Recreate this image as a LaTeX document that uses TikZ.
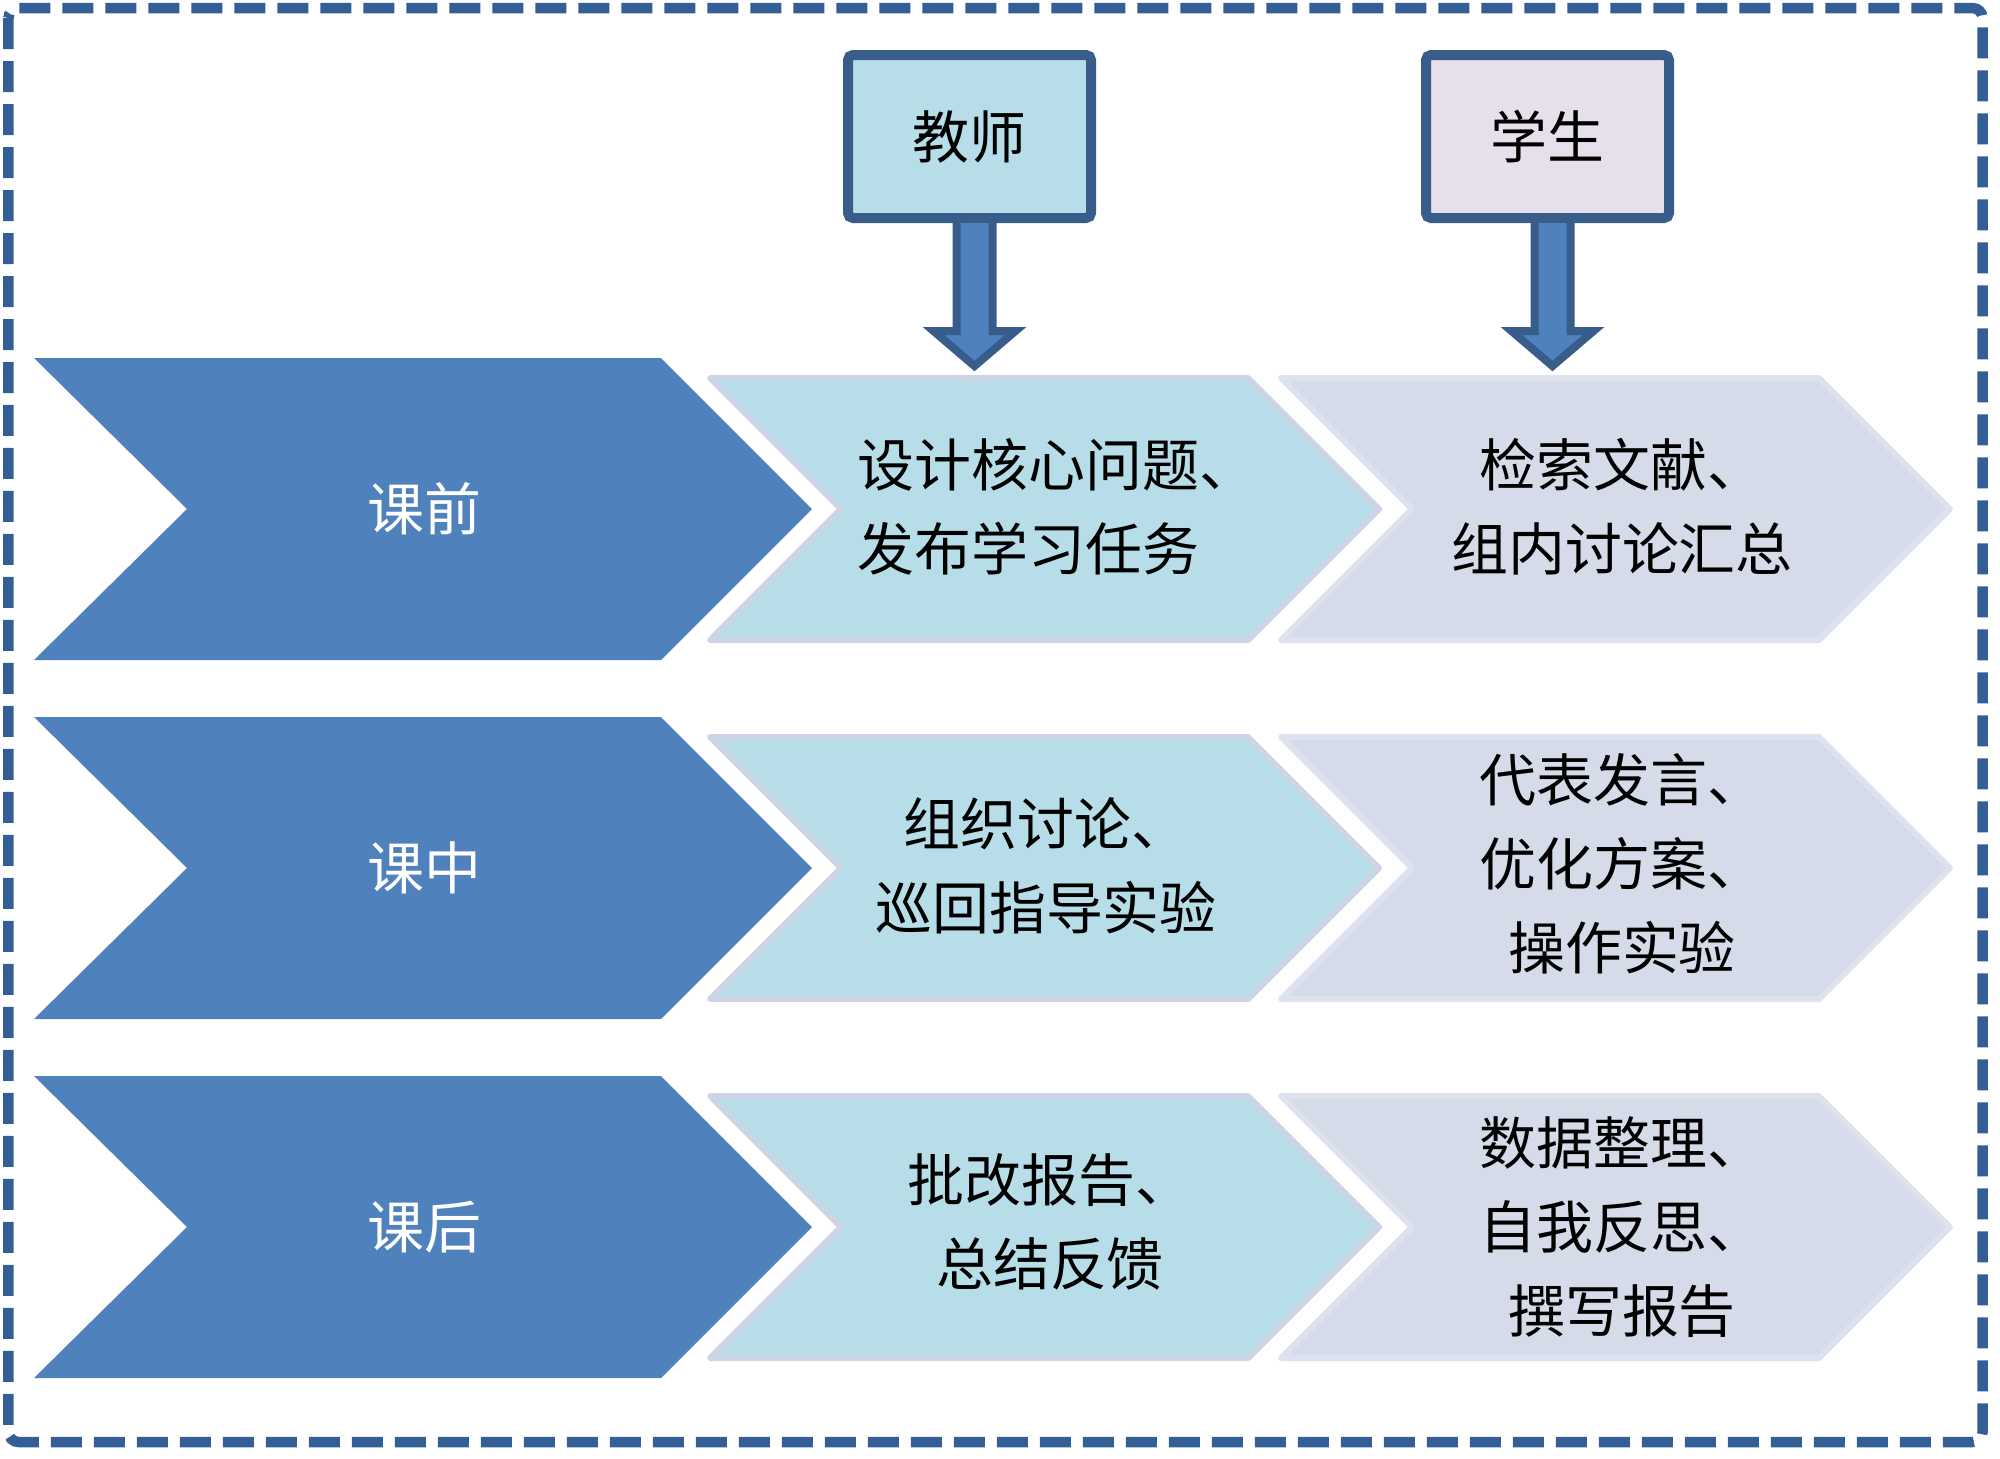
\documentclass[tikz,border=0pt]{standalone}
\usepackage{fontspec}
\setmainfont{Noto Sans CJK SC}
\usetikzlibrary{calc,positioning}
\definecolor{frameblue}{RGB}{52,94,150}
\definecolor{edgeblue}{RGB}{56,93,138}
\definecolor{chevdark}{RGB}{79,129,189}
\definecolor{chevteal}{RGB}{183,222,232}
\definecolor{chevgrey}{RGB}{213,219,232}
\definecolor{tealedge}{RGB}{204,212,229}
\definecolor{greyedge}{RGB}{221,226,238}
\definecolor{teachfill}{RGB}{183,221,232}
\definecolor{stufill}{RGB}{229,224,236}

\begin{document}
\begin{tikzpicture}[x=0.1mm,y=-0.1mm,
  every node/.style={font=\fontsize{16.2}{23.9}\selectfont},
  frame/.style={draw=frameblue,line width=1.05mm,dash pattern=on 3.1mm off 1.2mm,rounded corners=1mm},
  rolebox/.style={draw=edgeblue,line width=1mm,rounded corners=0.5mm,minimum width=24.3mm,minimum height=16.3mm,inner sep=0pt},
  blockarrow/.style={fill=chevdark,draw=edgeblue,line width=0.8mm,line join=miter},
  darkchev/.style={fill=chevdark},
  tealchev/.style={fill=chevteal,draw=tealedge,line width=0.6mm,line join=round},
  greychev/.style={fill=chevgrey,draw=greyedge,line width=0.6mm,line join=round},
  phase/.style={text=white,inner sep=0pt},
  task/.style={align=center,inner sep=0pt}]
\useasboundingbox (0,0) rectangle (2000,1459);
\draw[frame] (8.5,8) rectangle (1982.5,1442);

% three rows of chevrons
\foreach \cy/\lab [count=\i] in {509/课前,868/课中,1227/课后} {
  \fill[darkchev] (34,\cy-151) -- (661,\cy-151) -- (812,\cy) -- (661,\cy+151) -- (34,\cy+151) -- (187,\cy) -- cycle;
  \draw[tealchev] (710,\cy-131) -- (1248,\cy-131) -- (1379,\cy) -- (1248,\cy+131) -- (710,\cy+131) -- (841,\cy) -- cycle;
  \draw[greychev] (1281,\cy-131) -- (1819,\cy-131) -- (1950,\cy) -- (1819,\cy+131) -- (1281,\cy+131) -- (1412,\cy) -- cycle;
  \node[phase] (phase\i) at (424,\cy) {\lab};
}

% role boxes
\node[rolebox,fill=teachfill] (teacher) at (969.5,136.5) {教师};
\node[rolebox,fill=stufill] (student) at (1547.5,136.5) {学生};

\foreach \who in {teacher,student}
  \draw[blockarrow] ($(\who.south)+(-13,0)$) -- ++(0,108) -- ++(-23,0) -- ($(\who.south)+(5,143)$)
    -- ($(\who.south)+(46,108)$) -- ++(-23,0) -- ($(\who.south)+(23,0)$);

% teacher tasks
\node[task,align=left,anchor=west] (tchr1) at (857,507) {设计核心问题、\\发布学习任务};
\node[task] (tchr2) at (1046,866) {组织讨论、\\巡回指导实验};
\node[task] (tchr3) at (1050,1222) {批改报告、\\总结反馈};

% student tasks
\node[task] (stu1) at (1622,507) {检索文献、\\组内讨论汇总};
\node[task] (stu2) at (1622,864) {代表发言、\\优化方案、\\操作实验};
\node[task] (stu3) at (1622,1227) {数据整理、\\自我反思、\\撰写报告};
\end{tikzpicture}
\end{document}
